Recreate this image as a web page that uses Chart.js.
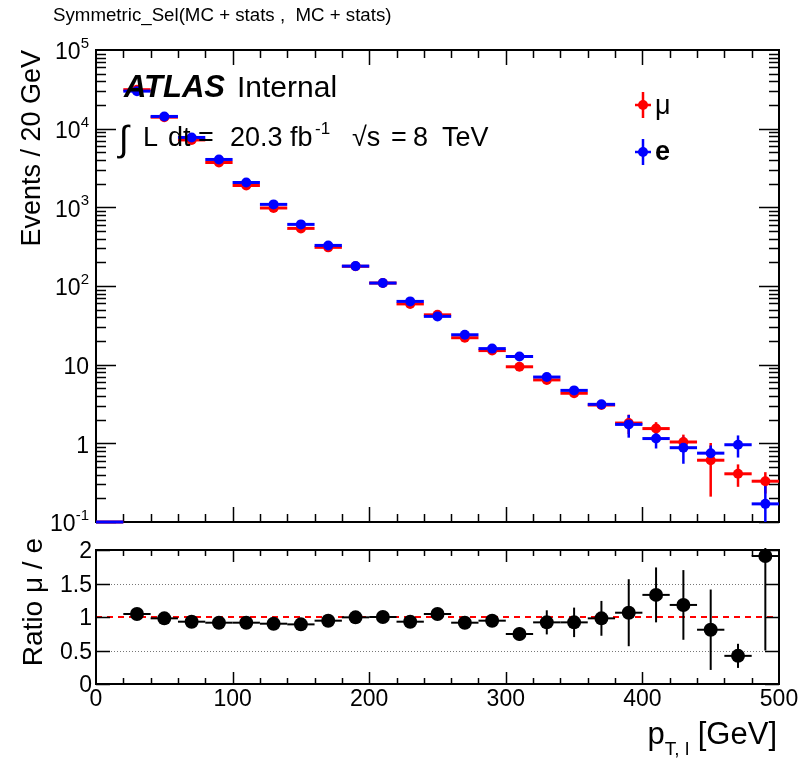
<!DOCTYPE html>
<html>
<head>
<meta charset="utf-8">
<script src="https://cdn.jsdelivr.net/npm/chart.js@4.4.1/dist/chart.umd.min.js"></script>
<style>
  body { margin: 0; background: #fff; }
  canvas { position: absolute; left: 0; }
  #main { top: 0; }
  #ratio { top: 500px; }
</style>
</head>
<body>
<canvas id="main" width="811" height="560"></canvas>
<canvas id="ratio" width="811" height="259"></canvas>
<script>
// 20 GeV bins in lepton pT
const binCenters = [10, 30, 50, 70, 90, 110, 130, 150, 170, 190, 210, 230, 250, 270, 290, 310, 330, 350, 370, 390, 410, 430, 450, 470, 490];
const binHalfWidth = 10;

const muEvents = [0, 31300, 14000, 7190, 3715, 1895, 981, 540, 310, 178, 109, 59.2, 43.0, 22.0, 15.1, 9.4, 6.4, 4.33, 3.07, 1.81, 1.54, 1.04, 0.61, 0.41, 0.33];
const muErr = [0, 200, 120, 70, 45, 30, 18, 12, 8, 5, 3.5, 2.5, 2, 1.2, 1, 0.8, 0.5, 0.4, 0.3, 0.5, 0.32, 0.25, 0.4, 0.13, 0.1];
const eEvents = [0, 30000, 14300, 7730, 4060, 2070, 1090, 607, 328, 179, 109, 63.7, 41.1, 24.0, 16.0, 12.7, 6.96, 4.71, 3.13, 1.74, 1.15, 0.88, 0.75, 0.96, 0.17];
const eErr = [0, 200, 120, 70, 45, 30, 18, 12, 8, 5, 3.5, 2.5, 2, 1.2, 1, 0.8, 0.5, 0.4, 0.3, 0.56, 0.29, 0.33, 0.19, 0.3, 0.13];

const ratioVals = [null, 1.045, 0.98, 0.93, 0.915, 0.915, 0.90, 0.89, 0.945, 0.995, 1.0, 0.93, 1.045, 0.915, 0.945, 0.746, 0.92, 0.92, 0.98, 1.064, 1.33, 1.18, 0.81, 0.42, 1.91];
const ratioErr = [null, 0.02, 0.02, 0.02, 0.02, 0.02, 0.02, 0.03, 0.03, 0.04, 0.04, 0.05, 0.05, 0.06, 0.07, 0.1, 0.18, 0.22, 0.26, 0.5, 0.41, 0.52, 0.6, 0.18, 1.41];

const logTickValues = [0.1, 1, 10, 100, 1000, 10000, 100000];
const logTickLabels = [['10', '-1'], ['1', ''], ['10', ''], ['10', '2'], ['10', '3'], ['10', '4'], ['10', '5']];
const ratioTickValues = [0, 0.5, 1, 1.5, 2];
const ratioTickLabels = ['0', '0.5', '1', '1.5', '2'];
const xTickValues = [0, 100, 200, 300, 400, 500];
const xTickLabels = ['0', '100', '200', '300', '400', '500'];

const FONT = '"Liberation Sans", Arial, Helvetica, sans-serif';
const RATIO_TOP = 500;

function font(size, style) {
  return (style ? style + ' ' : '') + size + 'px ' + FONT;
}

// base text with a raised exponent, right aligned
function drawPow(ctx, base, sup, xRight, yMid) {
  ctx.font = font(23);
  const wb = ctx.measureText(base).width;
  ctx.font = font(15);
  const ws = sup ? ctx.measureText(sup).width : 0;
  const x0 = xRight - wb - ws;
  ctx.textAlign = 'left';
  ctx.textBaseline = 'middle';
  ctx.font = font(23);
  ctx.fillText(base, x0, yMid);
  if (sup) {
    ctx.font = font(15);
    ctx.fillText(sup, x0 + wb, yMid - 9);
  }
}

function drawFrame(chart, yTicks) {
  const { ctx, chartArea: a, scales: { x, y } } = chart;
  ctx.save();
  ctx.strokeStyle = '#000';
  ctx.lineWidth = 1.5;
  ctx.beginPath();
  // x ticks every 20 GeV, long ones every 100
  for (let v = 20; v < 500; v += 20) {
    const px = Math.round(x.getPixelForValue(v)) + 0.5;
    const len = v % 100 === 0 ? chart.options.tickLong : chart.options.tickShort;
    ctx.moveTo(px, a.bottom); ctx.lineTo(px, a.bottom - len);
    ctx.moveTo(px, a.top); ctx.lineTo(px, a.top + len);
  }
  yTicks.forEach(([v, major]) => {
    const py = Math.round(y.getPixelForValue(v)) + 0.5;
    const len = major ? chart.options.yTickLong : chart.options.yTickShort;
    ctx.moveTo(a.left, py); ctx.lineTo(a.left + len, py);
    ctx.moveTo(a.right, py); ctx.lineTo(a.right - len, py);
  });
  ctx.stroke();
  ctx.lineWidth = 2;
  ctx.strokeRect(a.left, a.top, a.right - a.left, a.bottom - a.top);
  ctx.restore();
}

const errorBars = {
  id: 'errorBars',
  beforeDatasetsDraw(chart) {
    const { ctx, chartArea: a, scales: { x, y } } = chart;
    const isLog = y.type === 'logarithmic';
    const toPx = v => (isLog && v <= y.min) ? a.bottom : y.getPixelForValue(v);
    ctx.save();
    ctx.beginPath();
    ctx.rect(a.left, a.top - 2, a.right - a.left, a.bottom - a.top + 4);
    ctx.clip();
    // last dataset first, so the first one ends up on top
    for (let d = chart.data.datasets.length - 1; d >= 0; d--) {
      const ds = chart.data.datasets[d];
      ctx.strokeStyle = ds.pointBackgroundColor;
      ds.values.forEach((v, i) => {
        if (v === null) return;
        const c = binCenters[i];
        const py = toPx(v);
        ctx.lineWidth = ds.hBarWidth;
        ctx.beginPath();
        ctx.moveTo(x.getPixelForValue(c - binHalfWidth), py);
        ctx.lineTo(x.getPixelForValue(c + binHalfWidth), py);
        ctx.stroke();
        const err = ds.errors[i];
        if (v > 0 && err > 0) {
          ctx.lineWidth = ds.vBarWidth;
          ctx.beginPath();
          ctx.moveTo(x.getPixelForValue(c), toPx(v - err));
          ctx.lineTo(x.getPixelForValue(c), toPx(v + err));
          ctx.stroke();
        }
      });
    }
    ctx.restore();
  }
};

const mainFrame = {
  id: 'mainFrame',
  beforeDatasetsDraw(chart) {
    const ticks = [];
    for (let e = -1; e <= 4; e++) {
      for (let k = 1; k <= 9; k++) ticks.push([k * Math.pow(10, e), k === 1]);
    }
    drawFrame(chart, ticks);
  },
  afterDraw(chart) {
    const { ctx, chartArea: a, scales: { y } } = chart;
    ctx.save();
    ctx.fillStyle = '#000';

    ctx.font = font(18.7);
    ctx.textAlign = 'left';
    ctx.textBaseline = 'alphabetic';
    ctx.fillText('Symmetric_Sel(MC + stats ,  MC + stats)', 53, 21);

    logTickValues.forEach((v, i) => {
      drawPow(ctx, logTickLabels[i][0], logTickLabels[i][1], 89, y.getPixelForValue(v) + 3);
    });

    // y title, aligned to the top of the frame
    ctx.save();
    ctx.translate(33, a.top);
    ctx.rotate(-Math.PI / 2);
    ctx.font = font(27);
    ctx.textAlign = 'right';
    ctx.textBaseline = 'middle';
    ctx.fillText('Events / 20 GeV', 0, 0);
    ctx.restore();

    // ATLAS label
    ctx.textAlign = 'left';
    ctx.textBaseline = 'alphabetic';
    ctx.font = font(31, 'italic bold');
    ctx.fillText('ATLAS', 124, 97);
    ctx.font = font(30);
    ctx.fillText('Internal', 237, 97);

    ctx.font = font(36);
    ctx.fillText('\u222B', 119, 151);
    ctx.font = font(27);
    const pieces = [['L', 143], ['dt', 168], ['=', 198], ['20.3', 230], ['fb', 290], ['\u221As', 352], ['=', 391], ['8', 413], ['TeV', 442]];
    pieces.forEach(([t, px]) => ctx.fillText(t, px, 146));
    ctx.font = font(17);
    ctx.fillText('-1', 315, 134);

    // legend
    const legend = [['#ff0000', '\u03BC', 105, 114, ''], ['#0000ff', 'e', 152, 160, 'bold']];
    legend.forEach(([col, label, cy, base, style]) => {
      ctx.strokeStyle = col;
      ctx.fillStyle = col;
      ctx.lineWidth = 2.5;
      ctx.beginPath();
      ctx.moveTo(643, cy - 13); ctx.lineTo(643, cy + 13);
      ctx.moveTo(635, cy); ctx.lineTo(651, cy);
      ctx.stroke();
      ctx.beginPath();
      ctx.arc(643, cy, 5, 0, Math.PI * 2);
      ctx.fill();
      ctx.fillStyle = '#000';
      ctx.font = font(27, style);
      ctx.fillText(label, 655, base);
    });
    ctx.restore();
  }
};

const ratioFrame = {
  id: 'ratioFrame',
  beforeDatasetsDraw(chart) {
    const { ctx, chartArea: a, scales: { y } } = chart;
    ctx.save();
    ctx.lineWidth = 1;
    ctx.strokeStyle = '#777';
    ctx.setLineDash([1, 2]);
    [0.5, 1.5].forEach(v => {
      const py = Math.round(y.getPixelForValue(v)) + 0.5;
      ctx.beginPath(); ctx.moveTo(a.left, py); ctx.lineTo(a.right, py); ctx.stroke();
    });
    ctx.strokeStyle = '#ff0000';
    ctx.lineWidth = 2;
    ctx.setLineDash([6, 5]);
    const p1 = y.getPixelForValue(1);
    ctx.beginPath(); ctx.moveTo(a.left, p1); ctx.lineTo(a.right, p1); ctx.stroke();
    ctx.restore();
    drawFrame(chart, ratioTickValues.map(v => [v, true]));
  },
  afterDraw(chart) {
    const { ctx, chartArea: a, scales: { x, y } } = chart;
    ctx.save();
    ctx.fillStyle = '#000';
    ctx.font = font(23);
    ctx.textAlign = 'right';
    ctx.textBaseline = 'middle';
    ratioTickValues.forEach((v, i) => {
      ctx.fillText(ratioTickLabels[i], 92, y.getPixelForValue(v) + 2);
    });
    ctx.textAlign = 'center';
    xTickValues.forEach((v, i) => {
      ctx.fillText(xTickLabels[i], x.getPixelForValue(v), 700 - RATIO_TOP);
    });

    ctx.save();
    ctx.translate(34, 538 - RATIO_TOP);
    ctx.rotate(-Math.PI / 2);
    ctx.font = font(28);
    ctx.textAlign = 'right';
    ctx.textBaseline = 'middle';
    ctx.fillText('Ratio \u03BC / e', 0, 0);
    ctx.restore();

    // x title: p_{T, l} [GeV], right aligned to the frame
    ctx.textAlign = 'left';
    ctx.textBaseline = 'alphabetic';
    ctx.font = font(31);
    const wp = ctx.measureText('p').width;
    const wg = ctx.measureText(' [GeV]').width;
    ctx.font = font(19);
    const ws = ctx.measureText('T, l').width;
    let xp = a.right - 2 - wp - ws - wg;
    const base = 744 - RATIO_TOP;
    ctx.font = font(31);
    ctx.fillText('p', xp, base);
    xp += wp;
    ctx.font = font(19);
    ctx.fillText('T, l', xp, base + 11);
    xp += ws;
    ctx.font = font(31);
    ctx.fillText(' [GeV]', xp, base);
    ctx.restore();
  }
};

const xScale = { type: 'linear', min: 0, max: 500, display: false };

new Chart(document.getElementById('main'), {
  type: 'scatter',
  data: {
    datasets: [{
      label: 'e',
      data: binCenters.map((c, i) => ({ x: c, y: eEvents[i] > 0 ? eEvents[i] : null })),
      values: eEvents,
      errors: eErr,
      pointBackgroundColor: '#0000ff',
      pointBorderWidth: 0,
      pointRadius: 5,
      hBarWidth: 3,
      vBarWidth: 2.5
    }, {
      label: '\u03BC',
      data: binCenters.map((c, i) => ({ x: c, y: muEvents[i] > 0 ? muEvents[i] : null })),
      values: muEvents,
      errors: muErr,
      pointBackgroundColor: '#ff0000',
      pointBorderWidth: 0,
      pointRadius: 5,
      hBarWidth: 3,
      vBarWidth: 2.5
    }]
  },
  options: {
    responsive: false,
    animation: false,
    tickLong: 15,
    tickShort: 8,
    yTickLong: 20,
    yTickShort: 10,
    layout: { padding: { left: 96, right: 32, top: 50, bottom: 38 } },
    scales: {
      x: xScale,
      y: { type: 'logarithmic', min: 0.1, max: 100000, display: false }
    },
    plugins: { legend: { display: false }, tooltip: { enabled: false } }
  },
  plugins: [mainFrame, errorBars]
});

new Chart(document.getElementById('ratio'), {
  type: 'scatter',
  data: {
    datasets: [{
      label: 'Ratio',
      data: binCenters.map((c, i) => ({ x: c, y: ratioVals[i] })),
      values: ratioVals,
      errors: ratioErr,
      pointBackgroundColor: '#000000',
      pointBorderWidth: 0,
      pointRadius: 7,
      hBarWidth: 2,
      vBarWidth: 2
    }]
  },
  options: {
    responsive: false,
    animation: false,
    tickLong: 12,
    tickShort: 6,
    yTickLong: 14,
    yTickShort: 7,
    layout: { padding: { left: 96, right: 32, top: 50, bottom: 75 } },
    scales: {
      x: xScale,
      y: { type: 'linear', min: 0, max: 2, display: false }
    },
    plugins: { legend: { display: false }, tooltip: { enabled: false } }
  },
  plugins: [ratioFrame, errorBars]
});
</script>
</body>
</html>
